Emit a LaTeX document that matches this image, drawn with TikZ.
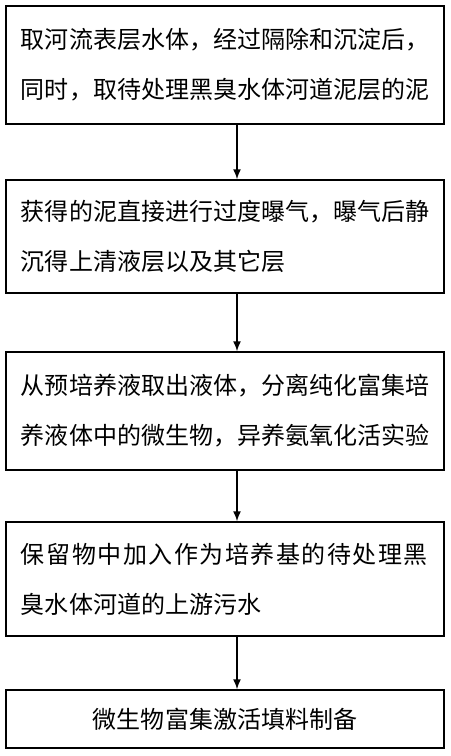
\documentclass[tikz,border=0pt]{standalone}
\usepackage{fontspec}
\newfontfamily\cjk{Noto Sans CJK SC}
\usetikzlibrary{arrows.meta}

\tikzset{every picture/.style={line width=0.75pt}}
\tikzset{stepbox/.style={draw, line width=1.1pt, rectangle, minimum width=328.5pt, minimum height=87pt, inner xsep=11.25pt, text width=306pt, align=left, font=\cjk\fontsize{18pt}{37.5pt}\selectfont},
  endbox/.style={stepbox, minimum height=43.5pt, align=center},
  flow/.style={line width=1.1pt, -{Latex[length=7.5pt,width=6pt]}}}

\begin{document}
\begin{tikzpicture}[x=0.75pt,y=0.75pt,yscale=-1,xscale=1]
\useasboundingbox (0,0) rectangle (450,756);

% Step Boxes
\node [stepbox, minimum height=88.5pt] (b1) at (225,65) {取河流表层水体，经过隔除和沉淀后，\\同时，取待处理黑臭水体河道泥层的泥};
\node [stepbox, minimum height=84.75pt] (b2) at (225,236.5) {获得的泥直接进行过度曝气，曝气后静\\沉得上清液层以及其它层};
\node [stepbox, minimum height=88.5pt] (b3) at (225,411) {从预培养液取出液体，分离纯化富集培\\养液体中的微生物，异养氨氧化活实验};
\node [stepbox, minimum height=85.5pt] (b4) at (225,579) {{\addfontfeature{LetterSpace=6.25}保留物中加入作为培养基的待处理黑}\\臭水体河道的上游污水};
\node [endbox] (b5) at (225,719) {微生物富集激活填料制备};

% Arrows
\draw [flow] ([xshift=9pt]b1.south) -- ([xshift=9pt]b2.north);
\draw [flow] ([xshift=9pt]b2.south) -- ([xshift=9pt]b3.north);
\draw [flow] ([xshift=9pt]b3.south) -- ([xshift=9pt]b4.north);
\draw [flow] ([xshift=9pt]b4.south) -- ([xshift=9pt]b5.north);

\end{tikzpicture}
\end{document}
